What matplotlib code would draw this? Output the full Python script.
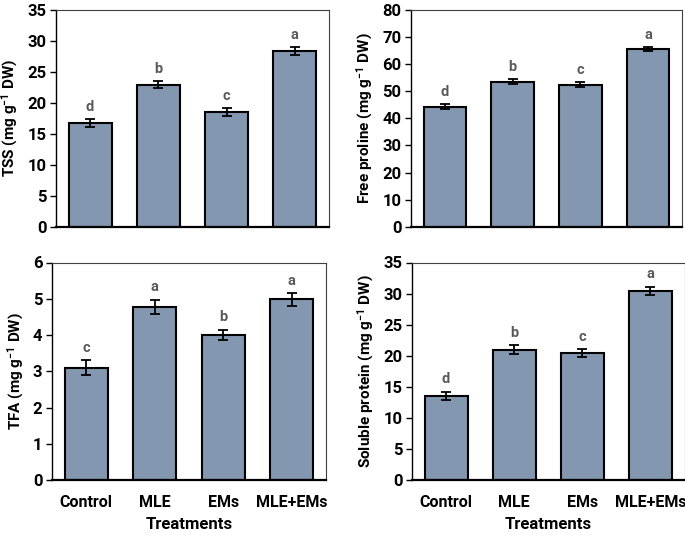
import matplotlib.pyplot as plt
import numpy as np

treatments = ["Control", "MLE", "EMs", "MLE+EMs"]

tss = [16.7, 22.9, 18.5, 28.3]
tss_err = [0.6, 0.6, 0.65, 0.65]
tss_letters = ["d", "b", "c", "a"]

proline = [44.3, 53.5, 52.4, 65.4]
proline_err = [0.8, 0.8, 0.8, 0.8]
proline_letters = ["d", "b", "c", "a"]

tfa = [3.1, 4.77, 4.0, 4.98]
tfa_err = [0.2, 0.2, 0.14, 0.18]
tfa_letters = ["c", "a", "b", "a"]

protein = [13.5, 21.0, 20.4, 30.4]
protein_err = [0.7, 0.65, 0.65, 0.7]
protein_letters = ["d", "b", "c", "a"]

plt.rcParams['font.family'] = ['Roboto', 'DejaVu Sans']
plt.rcParams['mathtext.default'] = 'regular'

fig = plt.figure(figsize=(6.85, 5.4), dpi=100)

W, H = 685, 540
def box(l, t, r, b):
    return [l / W, 1 - b / H, (r - l) / W, (b - t) / H]

panels = [
    (box(56, 9.5, 329, 227), tss, tss_err, tss_letters, 35, 5, "TSS (mg g$^{-1}$ DW)", False),
    (box(411, 9.5, 682, 227), proline, proline_err, proline_letters, 80, 10, "Free proline (mg g$^{-1}$ DW)", False),
    (box(52, 262.5, 326, 480), tfa, tfa_err, tfa_letters, 6, 1, "TFA (mg g$^{-1}$ DW)", True),
    (box(412, 262.5, 684.5, 480), protein, protein_err, protein_letters, 35, 5, "Soluble protein (mg g$^{-1}$ DW)", True),
]

x = np.arange(len(treatments))
for rect, vals, errs, letters, ymax, step, ylab, show_x in panels:
    ax = fig.add_axes(rect)
    ax.bar(x, vals, width=0.63, color="#8497b0", edgecolor="black", linewidth=1.5, zorder=2)
    ax.errorbar(x, vals, yerr=errs, fmt="none", ecolor="black", elinewidth=1.3,
                capsize=3.5, capthick=1.3, zorder=3)
    for xi, v, e, lt in zip(x, vals, errs, letters):
        ax.text(xi, v + e + ymax * 0.025, lt, ha="center", va="bottom",
                fontsize=10.5, fontweight="bold", color="#595959")
    ax.set_xlim(-0.5, 3.5)
    ax.set_ylim(0, ymax)
    ax.set_yticks(np.arange(0, ymax + step / 2, step))
    for s in ["top", "right"]:
        ax.spines[s].set_color("#404040")
        ax.spines[s].set_linewidth(0.8)
    ax.spines["left"].set_linewidth(1.0)
    ax.spines["bottom"].set_linewidth(1.6)
    ax.tick_params(axis="y", direction="out", length=4, width=1, labelsize=12, pad=3)
    ax.tick_params(axis="x", length=0, labelsize=11.5, pad=11)
    for lbl in ax.get_yticklabels():
        lbl.set_fontweight("bold")
    ax.set_xticks(x)
    if show_x:
        ax.set_xticklabels(treatments, fontweight="bold")
        ax.set_xlabel("Treatments", fontsize=12, fontweight="bold", labelpad=5)
    else:
        ax.set_xticklabels([])
    ax.set_ylabel(ylab, fontsize=11, fontweight="bold", labelpad=5)

fig.savefig("out.png", dpi=100)
